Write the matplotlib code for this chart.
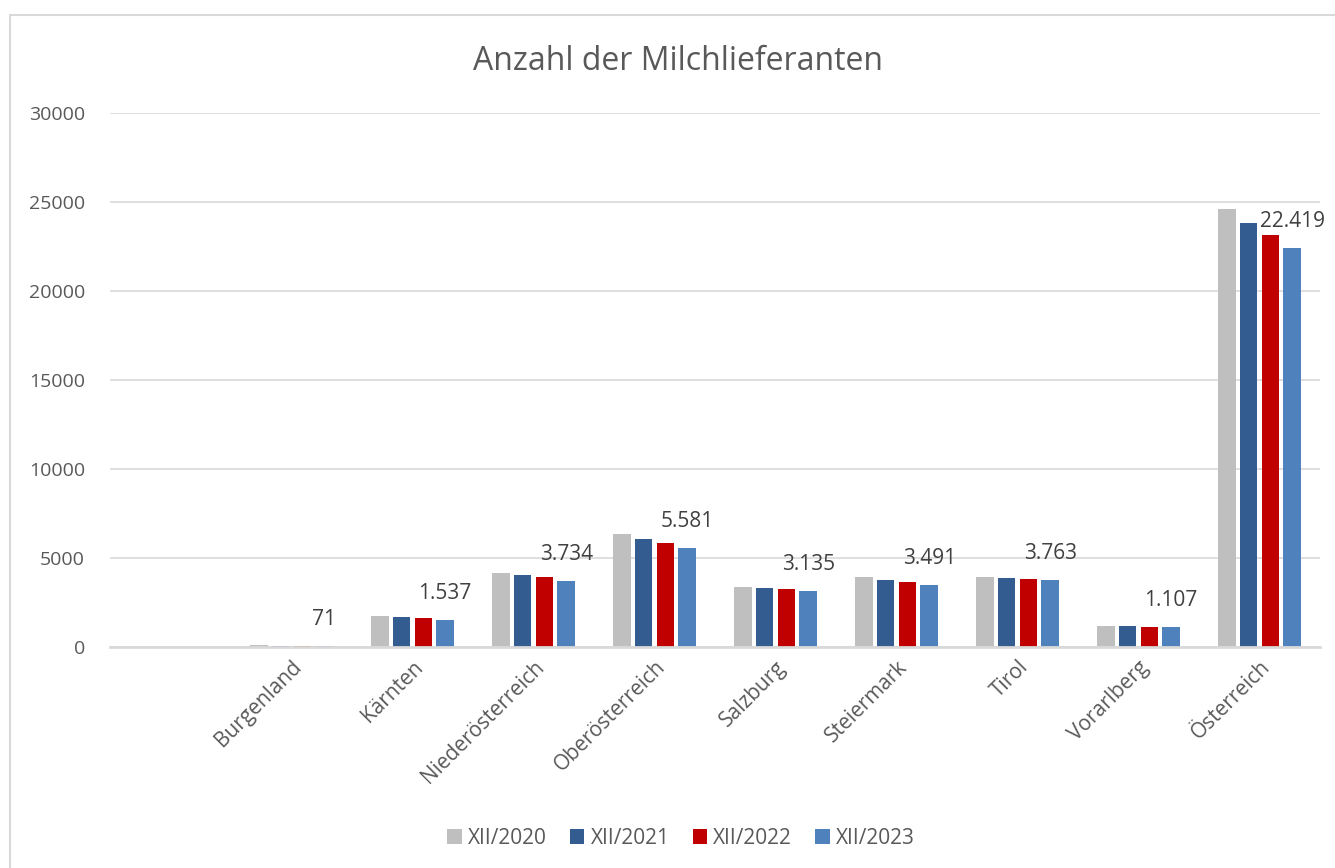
import matplotlib
matplotlib.use('Agg')
import matplotlib.pyplot as plt
import numpy as np
from matplotlib.patches import Rectangle

plt.rcParams['font.family'] = ['Open Sans', 'DejaVu Sans']

# data
regions = ['Burgenland', 'Kärnten', 'Niederösterreich', 'Oberösterreich', 'Salzburg',
           'Steiermark', 'Tirol', 'Vorarlberg', 'Österreich']
xii_2020 = [90, 1740, 4160, 6350, 3370, 3915, 3950, 1185, 24600]
xii_2021 = [84, 1670, 4045, 6070, 3310, 3765, 3893, 1170, 23820]
xii_2022 = [77, 1610, 3930, 5840, 3250, 3650, 3837, 1150, 23150]
xii_2023 = [71, 1537, 3734, 5581, 3135, 3491, 3763, 1107, 22419]
series_names = ['XII/2020', 'XII/2021', 'XII/2022', 'XII/2023']
colors = ['#bfbfbf', '#335d91', '#c00000', '#4f81bd']
label_texts = ['71', '1.537', '3.734', '5.581', '3.135', '3.491', '3.763', '1.107', '22.419']

fig = plt.figure(figsize=(13.35, 8.68), dpi=100)
ax = fig.add_axes([110 / 1335, 1 - 647 / 868, 1210 / 1335, (647 - 113) / 868])

# chart border (only top/left visible in the crop)
fig.patches.append(Rectangle((10 / 1335, -0.1), 1.2, 1 - 15 / 868 + 0.1, transform=fig.transFigure,
                             fill=False, edgecolor='#d9d9d9', linewidth=1.5))

x = np.arange(len(regions))
step = 0.18
width = 0.145
all_series = [xii_2020, xii_2021, xii_2022, xii_2023]
for i, (vals, name, c) in enumerate(zip(all_series, series_names, colors)):
    ax.bar(x + (i - 1.5) * step, vals, width, color=c, label=name, zorder=2)

# data labels for the last series, sitting above its bar
for xi, v, t in zip(x, xii_2023, label_texts):
    ax.text(xi + 1.5 * step, v + 1480, t, ha='center', va='center', fontsize=15,
            color='#404040', zorder=4)

ax.set_xlim(-1.5, 8.5)
ax.set_ylim(0, 30000)
ax.set_yticks(np.arange(0, 30001, 5000))
ax.yaxis.grid(True, color='#d9d9d9', linewidth=1.2, zorder=0)
ax.set_axisbelow(True)
for s in ['top', 'right', 'left']:
    ax.spines[s].set_visible(False)
ax.spines['bottom'].set_color('#d9d9d9')
ax.spines['bottom'].set_linewidth(2)
ax.spines['bottom'].set_zorder(3)
ax.tick_params(axis='both', length=0, labelsize=14, labelcolor='#595959')
ax.tick_params(axis='y', pad=18)
ax.set_xticks(x)
ax.set_xticklabels(regions, rotation=45, ha='right', rotation_mode='anchor', fontsize=15)
ax.tick_params(axis='x', pad=7)

fig.text(678 / 1335, 1 - 61 / 868, 'Anzahl der Milchlieferanten', ha='center', va='center',
         fontsize=23, color='#595959')

fig.legend(loc='center', bbox_to_anchor=(681 / 1335, 1 - 838 / 868), ncol=4, frameon=False,
           fontsize=15, labelcolor='#595959', handlelength=0.7, handleheight=0.7,
           handletextpad=0.3, columnspacing=1.1)

fig.savefig('out.png', dpi=100)
